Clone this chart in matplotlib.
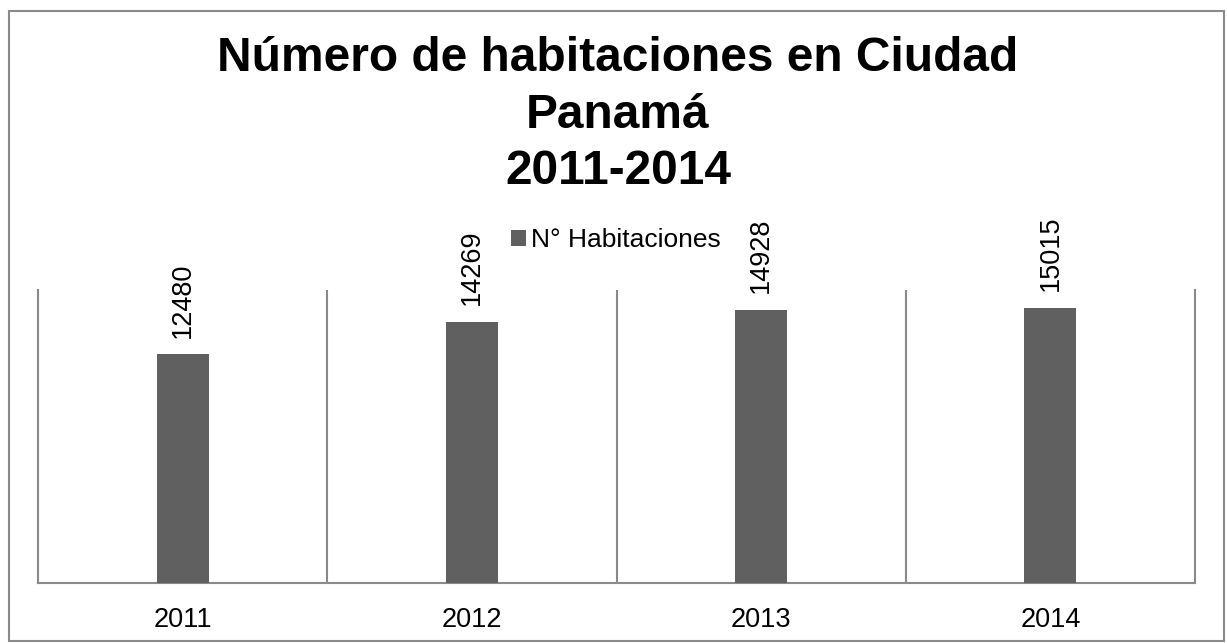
import matplotlib.pyplot as plt
from matplotlib.patches import Rectangle

# Hotel rooms in Panama City per year
years = ['2011', '2012', '2013', '2014']
rooms = [12480, 14269, 14928, 15015]
series_name = 'N° Habitaciones'

plt.rcParams['font.family'] = ['Liberation Sans', 'DejaVu Sans']

bar_color = '#606060'
line_color = '#8a8a8a'

fig = plt.figure(figsize=(12.27, 6.43), dpi=100)
ax = fig.add_axes([38 / 1227, 1 - 583 / 643, (1195 - 38) / 1227, (583 - 290) / 643])

x = list(range(len(years)))
bars = ax.bar(x, rooms, width=0.18, color=bar_color, label=series_name, zorder=3)

ax.set_xlim(-0.5, len(years) - 0.5)
ax.set_ylim(0, 16000)
ax.set_xticks(x)
ax.set_xticklabels(years, fontsize=19.5)
ax.tick_params(axis='x', length=0, pad=17)
ax.set_yticks([])

# category separators, Excel style
for b in range(1, len(years)):
    ax.axvline(b - 0.5, color=line_color, lw=1.5, zorder=1)

ax.spines['top'].set_visible(False)
for side in ['left', 'right', 'bottom']:
    ax.spines[side].set_color(line_color)
    ax.spines[side].set_linewidth(1.5)

# rotated value labels above each bar
for rect, val in zip(bars, rooms):
    ax.annotate(str(val), (rect.get_x() + rect.get_width() / 2, val),
                xytext=(0, 12), textcoords='offset points',
                rotation=90, ha='center', va='bottom', fontsize=19.5)

fig.legend(handles=[bars], labels=[series_name], loc='center',
           bbox_to_anchor=(616 / 1227, 1 - 240 / 643), frameon=False,
           fontsize=19, handlelength=0.55, handleheight=0.55, handletextpad=0.2,
           borderpad=0)

fig.text(618 / 1227, 1 - 115 / 643,
         'Número de habitaciones en Ciudad\nPanamá\n2011-2014',
         ha='center', va='center', fontsize=34.5, fontweight='bold',
         linespacing=1.32)

# outer chart border
fig.patches.append(Rectangle((8.5 / 1227, 1 - 641 / 643), (1224 - 8.5) / 1227,
                             (641 - 11) / 643, transform=fig.transFigure,
                             fill=False, edgecolor=line_color, lw=1.5))

fig.savefig('out.png', dpi=100)
